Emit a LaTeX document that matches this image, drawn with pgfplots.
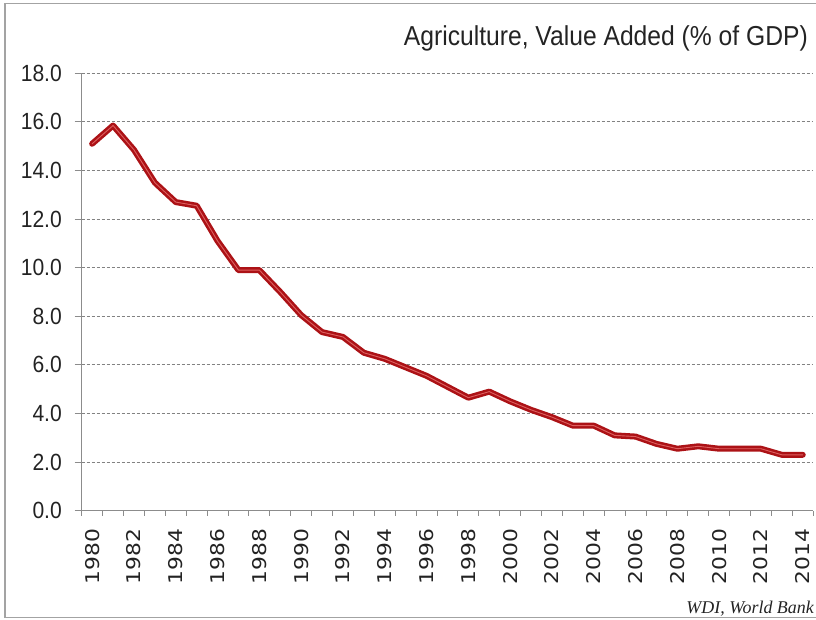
\documentclass[border=0pt]{standalone}
\usepackage{pgfplots}
\pgfplotsset{compat=1.18}
\usepackage{pgfplotstable}
\usepackage{fontspec}
\setmainfont{Liberation Sans}
\newfontfamily\titlefont[FakeStretch=0.9]{Liberation Sans}
\newfontfamily\xfont[FakeStretch=1.15]{DejaVu Sans}
\newfontfamily\capfont{Liberation Serif}
\definecolor{linered}{RGB}{172,18,22}
\definecolor{lineinner}{RGB}{222,95,95}
\definecolor{gridgray}{RGB}{130,130,130}
\definecolor{axisgray}{RGB}{140,140,140}
\definecolor{textdark}{RGB}{35,35,35}

\pgfplotstableread{
year value
1980 15.10
1981 15.85
1982 14.85
1983 13.50
1984 12.70
1985 12.55
1986 11.10
1987 9.90
1988 9.90
1989 9.00
1990 8.05
1991 7.35
1992 7.15
1993 6.50
1994 6.25
1995 5.90
1996 5.55
1997 5.10
1998 4.65
1999 4.90
2000 4.50
2001 4.15
2002 3.85
2003 3.50
2004 3.50
2005 3.10
2006 3.05
2007 2.75
2008 2.55
2009 2.65
2010 2.55
2011 2.55
2012 2.55
2013 2.30
2014 2.30
}\datatable

\begin{document}
\begin{tikzpicture}[x=1bp,y=1bp]
\path[use as bounding box] (0,0) rectangle (816,620);
\draw[axisgray!80, line width=1.2bp] (817,616.7) -- (5,616.7) -- (5,2.5) -- (817,2.5);
\begin{axis}[
  at={(81.7bp,109.3bp)}, anchor=south west,
  scale only axis, width=731.5bp, height=437.4bp,
  xmin=1979.5, xmax=2014.5, ymin=0, ymax=18,
  axis lines=left,
  axis line style={-, draw=axisgray, line width=1bp},
  /pgf/number format/assume math mode=true,
  xtick={1980,1982,...,2014},
  minor xtick={1979.5,1980.5,...,2014.5},
  major x tick style={draw=none},
  minor x tick style={draw=axisgray, line width=1bp},
  minor tick length=5bp,
  major tick length=7bp,
  tick align=outside,
  ytick={0,2,...,18},
  y tick style={draw=axisgray, line width=1bp},
  ymajorgrids,
  grid style={draw=gridgray, line width=1bp, dash pattern=on 3bp off 2bp},
  yticklabel style={/pgf/number format/.cd, fixed, fixed zerofill, precision=1, /tikz/.cd,
    font=\titlefont\fontsize{23.5}{24}\selectfont, text=textdark, inner sep=0pt, anchor=east},
  yticklabel shift=12.7bp,
  xticklabel style={/pgf/number format/1000 sep={},
    font=\xfont\fontsize{19}{20}\selectfont, text=textdark, inner sep=0pt, rotate=90, anchor=east},
  xticklabel shift=11bp,
  clip=false,
]
\addplot[linered, line width=6bp, line join=round, line cap=round] table[x=year,y=value]{\datatable};
\addplot[lineinner, line width=0.9bp, line join=round, line cap=round] table[x=year,y=value]{\datatable};
\end{axis}
\node[anchor=base east, inner sep=0pt, text=textdark] at (808,574)
  {\titlefont\fontsize{27.5}{30}\selectfont Agriculture, Value Added (\% of GDP)};
\node[anchor=base east, inner sep=0pt, text=textdark] at (814,6)
  {\capfont\itshape\fontsize{18}{20}\selectfont WDI, World Bank};
\end{tikzpicture}
\end{document}
